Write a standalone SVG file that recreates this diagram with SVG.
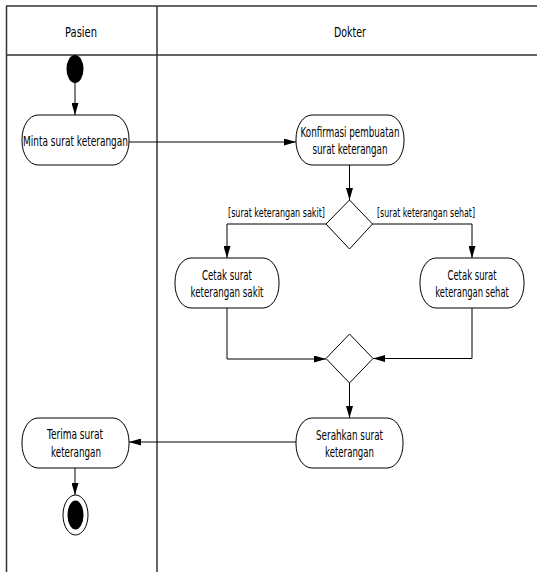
<svg xmlns="http://www.w3.org/2000/svg" width="537" height="572" viewBox="0 0 537 572">
  <style>
    .lane { stroke: #333; stroke-width: 1.5; fill: none; }
    .act { fill: #fff; stroke: #000; stroke-width: 1; }
    .dec { fill: #fff; stroke: #000; stroke-width: 1; }
    .edge { fill: none; stroke: #000; stroke-width: 1; marker-end: url(#arrow); }
    text { font-family: "DejaVu Sans", "Liberation Sans", sans-serif; fill: #000; text-anchor: middle; }
    .t { font-size: 13.5px; }
    .h { font-size: 13.5px; }
    .g { font-size: 11.5px; }
  </style>
  <defs>
    <marker id="arrow" markerWidth="12" markerHeight="7" refX="12" refY="3.5" orient="auto" markerUnits="userSpaceOnUse">
      <path d="M0,0 L12,3.5 L0,7 z" fill="#000"/>
    </marker>
  </defs>

  <rect width="537" height="572" fill="#fff"/>

  <!-- swimlanes -->
  <g id="lanes">
    <line class="lane" x1="6" y1="6" x2="537" y2="6"/>
    <line class="lane" x1="6" y1="55" x2="537" y2="55"/>
    <line class="lane" x1="6.5" y1="6" x2="6.5" y2="572"/>
    <line class="lane" x1="157" y1="6" x2="157" y2="572"/>
    <text class="h" x="81" y="37" textLength="32" lengthAdjust="spacingAndGlyphs">Pasien</text>
    <text class="h" x="350" y="37" textLength="32" lengthAdjust="spacingAndGlyphs">Dokter</text>
  </g>

  <!-- connectors -->
  <g id="connectors">
    <line class="edge" x1="75" y1="83" x2="75" y2="115"/>
    <line class="edge" x1="129" y1="142" x2="296" y2="142"/>
    <line class="edge" x1="349.5" y1="165" x2="349.5" y2="200"/>
    <polyline class="edge" points="326,224 227,224 227,258"/>
    <polyline class="edge" points="372,224 472,224 472,258"/>
    <polyline class="edge" points="227,308 227,359 326,359"/>
    <polyline class="edge" points="472,308 472,358.5 373,358.5"/>
    <line class="edge" x1="349.5" y1="383" x2="349.5" y2="418"/>
    <line class="edge" x1="296" y1="442" x2="129" y2="442"/>
    <line class="edge" x1="75" y1="468" x2="75" y2="495"/>
    <text class="g" x="276.5" y="217" textLength="97" lengthAdjust="spacingAndGlyphs">[surat keterangan sakit]</text>
    <text class="g" x="426" y="217" textLength="98" lengthAdjust="spacingAndGlyphs">[surat keterangan sehat]</text>
  </g>

  <!-- nodes -->
  <g id="start">
    <ellipse cx="75" cy="69" rx="8.5" ry="14" fill="#000"/>
  </g>

  <g id="minta">
    <rect class="act" x="22" y="115" width="107" height="50" rx="16" ry="24"/>
    <text class="t" x="75.5" y="146" textLength="105" lengthAdjust="spacingAndGlyphs">Minta surat keterangan</text>
  </g>

  <g id="konfirmasi">
    <rect class="act" x="296" y="115" width="108" height="50" rx="16" ry="24"/>
    <text class="t" x="350" y="137" textLength="99" lengthAdjust="spacingAndGlyphs">Konfirmasi pembuatan</text>
    <text class="t" x="350" y="154" textLength="75" lengthAdjust="spacingAndGlyphs">surat keterangan</text>
  </g>

  <g id="decision">
    <polygon class="dec" points="349.5,200 372.5,224 349.5,249 326,224"/>
  </g>

  <g id="cetak-sakit">
    <rect class="act" x="175" y="258" width="104" height="50" rx="16" ry="24"/>
    <text class="t" x="227" y="280" textLength="50" lengthAdjust="spacingAndGlyphs">Cetak surat</text>
    <text class="t" x="227" y="297" textLength="73" lengthAdjust="spacingAndGlyphs">keterangan sakit</text>
  </g>

  <g id="cetak-sehat">
    <rect class="act" x="420" y="258" width="104" height="50" rx="16" ry="24"/>
    <text class="t" x="472" y="280" textLength="49" lengthAdjust="spacingAndGlyphs">Cetak surat</text>
    <text class="t" transform="translate(472 297) scale(0.62 1)" x="0" y="0">keterangan sehat</text>
  </g>

  <g id="merge">
    <polygon class="dec" points="349.5,334 373,358.5 349.5,383 326,358.5"/>
  </g>

  <g id="serahkan">
    <rect class="act" x="296" y="418" width="107" height="50" rx="16" ry="24"/>
    <text class="t" x="349.5" y="440" textLength="67" lengthAdjust="spacingAndGlyphs">Serahkan surat</text>
    <text class="t" x="349.5" y="457" textLength="49" lengthAdjust="spacingAndGlyphs">keterangan</text>
  </g>

  <g id="terima">
    <rect class="act" x="22" y="418" width="107" height="50" rx="16" ry="24"/>
    <text class="t" x="75" y="439" textLength="56" lengthAdjust="spacingAndGlyphs">Terima surat</text>
    <text class="t" x="76" y="457" textLength="50" lengthAdjust="spacingAndGlyphs">keterangan</text>
  </g>

  <g id="end">
    <ellipse cx="75.5" cy="515" rx="12.5" ry="20" fill="#fff" stroke="#000" stroke-width="1"/>
    <ellipse cx="75.5" cy="515" rx="8" ry="14.5" fill="#000"/>
  </g>
</svg>
